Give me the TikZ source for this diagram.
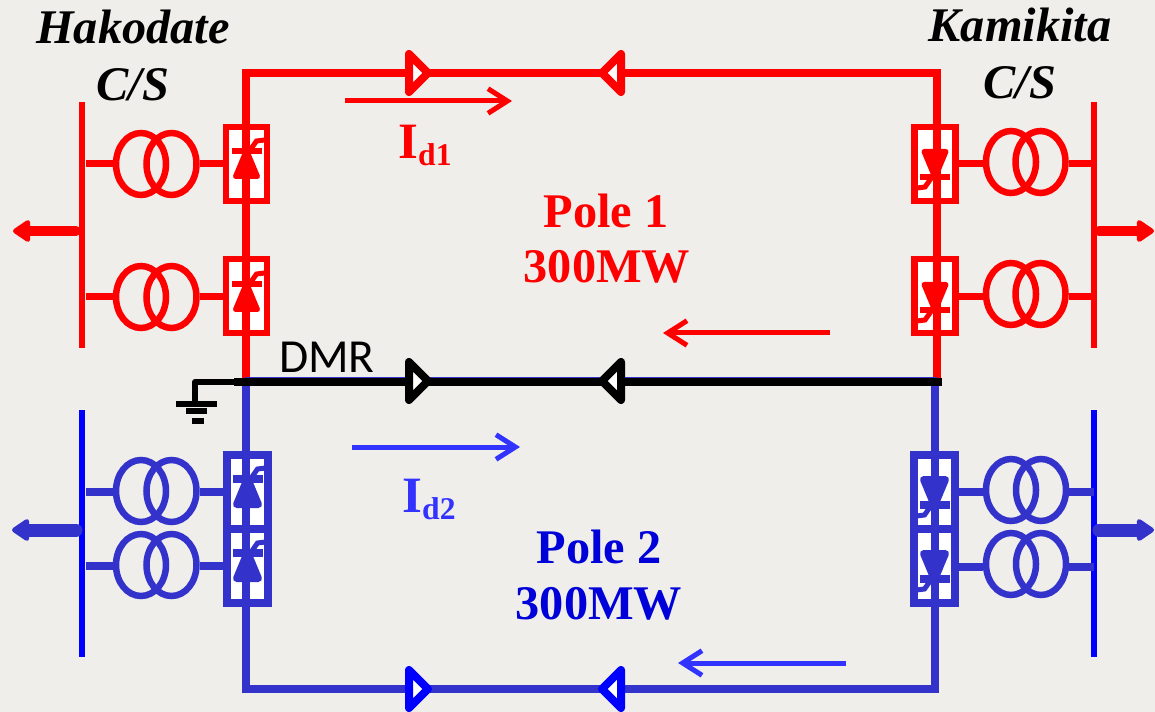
\documentclass[tikz,border=0pt]{standalone}
\usepackage{fontspec}
\setmainfont{Liberation Serif}
\newfontfamily\dmrfont{Carlito}
\usetikzlibrary{arrows.meta,shapes.geometric}
\definecolor{bgcol}{HTML}{EFEEEB}
\definecolor{polered}{HTML}{FF0000}
\definecolor{poleblue}{HTML}{3333CC}
\definecolor{busblue}{HTML}{0000FF}
\definecolor{curblue}{HTML}{3333FF}
\newcommand{\pxu}{0.02cm}
\tikzset{
  line/.style={line width=8*\pxu},
  bus/.style={line width=6*\pxu},
  stub/.style={line width=7*\pxu},
  coil/.style={ellipse,draw,inner sep=0pt,line width=6.5*\pxu,minimum width=50*\pxu,minimum height=62*\pxu},
  valve/.style={rectangle,draw=#1,fill=white,inner sep=0pt,minimum width=41*\pxu,minimum height=74*\pxu},
  infeed/.style={line cap=round,-{Triangle[length=11pt,width=14pt,round]}},
  current/.style={line width=5*\pxu,-{Straight Barb[length=11pt,width=14pt]}},
  title/.style={font=\fontsize{27.5}{32}\selectfont\bfseries\itshape},
  pole/.style={font=\fontsize{27.5}{32}\selectfont\bfseries},
  curlab/.style={font=\fontsize{29}{33}\selectfont\bfseries},
}
% line marks
\newcommand{\markfwd}[3]{\draw[#3,fill=white,line width=8*\pxu,line join=round] (#1-9,#2-19) -- (#1+10,#2) -- (#1-9,#2+19) -- cycle;}
\newcommand{\markbck}[3]{\draw[#3,fill=white,line width=8*\pxu,line join=round] (#1+9,#2-19) -- (#1-10,#2) -- (#1+9,#2+19) -- cycle;}
% thyristor symbol, apex up
\newcommand{\thyr}[5]{
  \begin{scope}[shift={(#1,#2)},rotate=#3]
    \fill[#4,draw=#4,line width=#5*\pxu,line join=round] (0,-14) -- (11,12.5) -- (-11,12.5) -- cycle;
    \draw[#4,line width=(#5+1)*\pxu] (-15,-13) -- (15,-13);
    \draw[#4,line width=5*\pxu] (3,-13) -- (10,-23) -- (18,-24);
  \end{scope}}
\begin{document}
\begin{tikzpicture}[x=\pxu,y=-\pxu]
  \useasboundingbox[fill=bgcol] (0,0) rectangle (1155,712);

  \coordinate (rtl) at (245.5,73);
  \coordinate (rtr) at (937,73);
  \coordinate (rbl) at (245.5,381);
  \coordinate (rbr) at (937,381);
  \coordinate (bbl) at (245.5,689);
  \coordinate (bbr) at (935,689);
  \coordinate (bmr) at (935,381);
  \coordinate (dl) at (234,382);
  \coordinate (dr) at (942,382);

% valve boxes
  \node[valve=polered,line width=6.5*\pxu] (vr1) at (246.5,164) {};
  \node[valve=polered,line width=6.5*\pxu] (vr2) at (246.5,296) {};
  \node[valve=polered,line width=6.5*\pxu] (vr3) at (935,164) {};
  \node[valve=polered,line width=6.5*\pxu] (vr4) at (935,296) {};
  \node[valve=poleblue,line width=8*\pxu] (vb1) at (247.5,492) {};
  \node[valve=poleblue,line width=8*\pxu] (vb2) at (247.5,566) {};
  \node[valve=poleblue,line width=8*\pxu] (vb3) at (934.5,492) {};
  \node[valve=poleblue,line width=8*\pxu] (vb4) at (934.5,566) {};

% transformers
  \node[coil,polered] (tr1a) at (141,164) {};
  \node[coil,polered] (tr1b) at (171.5,164) {};
  \node[coil,polered] (tr2a) at (141,297) {};
  \node[coil,polered] (tr2b) at (171.5,297) {};
  \node[coil,polered] (tr3a) at (1011,162) {};
  \node[coil,polered] (tr3b) at (1040.5,162) {};
  \node[coil,polered] (tr4a) at (1011,294) {};
  \node[coil,polered] (tr4b) at (1040.5,294) {};
  \node[coil,poleblue] (tb1a) at (141,491) {};
  \node[coil,poleblue] (tb1b) at (171.5,491) {};
  \node[coil,poleblue] (tb2a) at (141,565) {};
  \node[coil,poleblue] (tb2b) at (171.5,565) {};
  \node[coil,poleblue] (tb3a) at (1011,490) {};
  \node[coil,poleblue] (tb3b) at (1041,490) {};
  \node[coil,poleblue] (tb4a) at (1011,564) {};
  \node[coil,poleblue] (tb4b) at (1041,564) {};

% busbars
  \coordinate (brl1) at (82,102);
  \coordinate (brl2) at (82,348);
  \coordinate (brr1) at (1094,102);
  \coordinate (brr2) at (1094,348);
  \coordinate (bbl1) at (82,410);
  \coordinate (bbl2) at (82,657);
  \coordinate (bbr1) at (1094,410);
  \coordinate (bbr2) at (1094,657);
  \draw[bus,polered] (brl1) -- (brl2);
  \draw[bus,polered] (brr1) -- (brr2);
  \draw[bus,busblue] (bbl1) -- (bbl2);
  \draw[bus,busblue] (bbr1) -- (bbr2);

% stubs
  \coordinate (s1) at (86,164);
  \coordinate (s2) at (86,297);
  \coordinate (s3) at (1094,164);
  \coordinate (s4) at (1094,297);
  \coordinate (s5) at (86,492);
  \coordinate (s6) at (86,566);
  \coordinate (s7) at (1094,492);
  \coordinate (s8) at (1094,567);
\path[draw,polered,stub]
    (s1) -- (s1 -| tr1a.west)
    (tr1b.east |- s1) -- (s1 -| vr1.west)
    (s2) -- (s2 -| tr2a.west)
    (tr2b.east |- s2) -- (s2 -| vr2.west)
    (s3) -- (s3 -| tr3b.east)
    (tr3a.west |- s3) -- (s3 -| vr3.east)
    (s4) -- (s4 -| tr4b.east)
    (tr4a.west |- s4) -- (s4 -| vr4.east);
\path[draw,poleblue,line width=8*\pxu]
    (s5) -- (s5 -| tb1a.west)
    (tb1b.east |- s5) -- (s5 -| vb1.west)
    (s6) -- (s6 -| tb2a.west)
    (tb2b.east |- s6) -- (s6 -| vb2.west)
    (s7) -- (s7 -| tb3b.east)
    (tb3a.west |- s7) -- (s7 -| vb3.east)
    (s8) -- (s8 -| tb4b.east)
    (tb4a.west |- s8) -- (s8 -| vb4.east);

% poles
  \draw[line,poleblue,line join=miter] (bmr) -- (bbr) -- (bbl) -- (rbl);
  \draw[line,polered,line join=miter] (rbl) -- (rtl) -- (rtr) -- (rbr);
  \draw[poleblue,line width=1.5*\pxu] (245,377.5) -- (937,377.5);
  \draw[line,black] (dl) -- (dr);

% thyristors
  \thyr{246.5}{164}{0}{polered}{5}
  \thyr{246.5}{297}{0}{polered}{5}
  \thyr{935}{164}{180}{polered}{5}
  \thyr{935}{297}{180}{polered}{5}
  \thyr{247.5}{492}{0}{poleblue}{7}
  \thyr{247.5}{566}{0}{poleblue}{7}
  \thyr{934.5}{492}{180}{poleblue}{7}
  \thyr{934.5}{566}{180}{poleblue}{7}

% line marks
  \markfwd{418}{73}{polered}
  \markbck{612}{73}{polered}
  \markfwd{418}{381}{black}
  \markbck{612}{381}{black}
  \markfwd{418}{689}{busblue}
  \markbck{612}{689}{busblue}

% infeed arrows
  \coordinate (al1) at (76,231);
  \coordinate (al2) at (13,231);
  \coordinate (ar1) at (1099,231);
  \coordinate (ar2) at (1154,231);
  \coordinate (al3) at (76,530);
  \coordinate (al4) at (12,530);
  \coordinate (ar3) at (1099,530);
  \coordinate (ar4) at (1154,530);
  \draw[infeed,polered,line width=10*\pxu] (al1) -- (al2);
  \draw[infeed,polered,line width=10*\pxu] (ar1) -- (ar2);
  \draw[infeed,poleblue,line width=13*\pxu] (al3) -- (al4);
  \draw[infeed,poleblue,line width=13*\pxu] (ar3) -- (ar4);

% ground
  \coordinate (gt) at (195,402);
  \draw[black,line width=6*\pxu,line join=round] (dl) -- (gt |- dl) -- (gt);
  \fill[black] (176,401) rectangle (217,407);
  \fill[black] (186,408) rectangle (207,414);
  \fill[black] (192,418) rectangle (204,424);

% current arrows
  \coordinate (i1a) at (345,101);
  \coordinate (i1b) at (512,101);
  \coordinate (i2a) at (830,333);
  \coordinate (i2b) at (663,333);
  \coordinate (i3a) at (352,447);
  \coordinate (i3b) at (520,447);
  \coordinate (i4a) at (846,663);
  \coordinate (i4b) at (678,663);
  \draw[current,polered] (i1a) -- (i1b);
  \draw[current,polered] (i2a) -- (i2b);
  \draw[current,curblue] (i3a) -- (i3b);
  \draw[current,curblue] (i4a) -- (i4b);

% labels
  \node[title] (hak) at (133,27) {Hakodate};
  \node[title] (hcs) at (133,85) {C/S};
  \node[title] (kam) at (1020,25) {Kamikita};
  \node[title] (kcs) at (1020,83) {C/S};
  \node[pole,polered] (p1) at (606,211) {Pole 1};
  \node[pole,polered] (p1mw) at (607,267) {300MW};
  \node[pole,busblue!85!black] (p2) at (599,547) {Pole 2};
  \node[pole,busblue!85!black] (p2mw) at (599,604) {300MW};
  \node[curlab,polered] (id1) at (425,145) {I\raisebox{-4pt}{\fontsize{18}{20}\selectfont d1}};
  \node[curlab,curblue] (id2) at (429,499) {I\raisebox{-4pt}{\fontsize{18}{20}\selectfont d2}};
  \node[font=\fontsize{27}{31}\selectfont\dmrfont] (dmr) at (327,357) {DMR};
\end{tikzpicture}
\end{document}
